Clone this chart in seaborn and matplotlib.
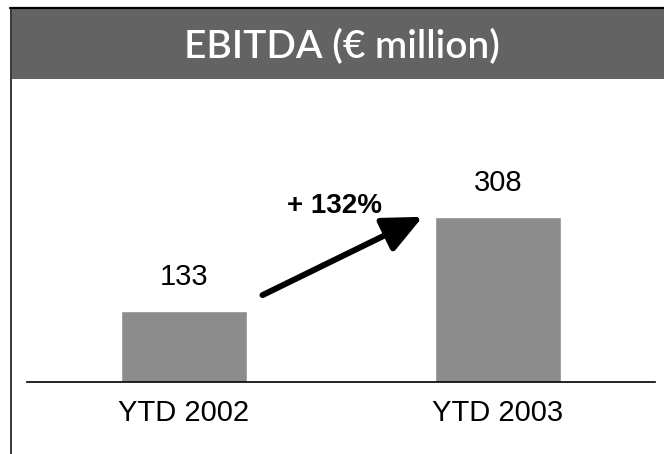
import matplotlib
matplotlib.use("Agg")
import matplotlib.pyplot as plt
import seaborn as sns
import pandas as pd
from matplotlib.patches import Rectangle
from matplotlib.lines import Line2D

# data
periods = ["YTD 2002", "YTD 2003"]
ebitda = [133, 308]
growth_label = "+ 132%"
title = "EBITDA (€ million)"

sns.set_theme(style="white")
plt.rcParams['font.family'] = ['Liberation Sans', 'DejaVu Sans']

df = pd.DataFrame({"period": periods, "ebitda": ebitda})

fig = plt.figure(figsize=(6.64, 4.54), dpi=100)
fig.patch.set_facecolor("white")

# title band + frame lines
fig.patches.append(Rectangle((12 / 664, 375 / 454), 1, 71 / 454, transform=fig.transFigure,
                             facecolor="#636363", edgecolor="none", zorder=0))
fig.lines.append(Line2D([10 / 664, 1], [446.5 / 454, 446.5 / 454], transform=fig.transFigure,
                        color="black", lw=1.6))
fig.lines.append(Line2D([11 / 664, 11 / 664], [0, 446.5 / 454], transform=fig.transFigure,
                        color="black", lw=1.1))
fig.text(342 / 664, 396 / 454, title, color="white", fontsize=28, fontweight="semibold",
         family=["Lato", "DejaVu Sans"], ha="center", va="baseline")

ax = fig.add_axes([27 / 664, 72 / 454, 628 / 664, 303 / 454])
sns.barplot(data=df, x="period", y="ebitda", color="#8c8c8c", width=0.4,
            saturation=1, ax=ax)
ax.set_xlim(-0.5, 1.5)
ax.set_ylim(0, 565)
ax.set_facecolor("none")

for s in ["top", "left", "right"]:
    ax.spines[s].set_visible(False)
ax.spines["bottom"].set_color("black")
ax.spines["bottom"].set_linewidth(1.2)
ax.set_yticks([])
ax.set_xlabel("")
ax.set_ylabel("")
ax.tick_params(axis="x", length=0, pad=12.5, labelsize=21, labelcolor="black")

ax.bar_label(ax.containers[0], labels=[str(v) for v in ebitda], padding=14,
             fontsize=21, color="black")

# growth arrow
ax.annotate("", xy=(0.76, ebitda[1]), xytext=(0.25, 162),
            arrowprops=dict(arrowstyle="-|>,head_length=2.4,head_width=1.1",
                            mutation_scale=10, lw=4.3, color="black",
                            shrinkA=0, shrinkB=0))
ax.text(0.48, 315, growth_label, fontsize=20, fontweight="bold",
        ha="center", va="baseline", color="black")

fig.savefig("out.png", dpi=100)
